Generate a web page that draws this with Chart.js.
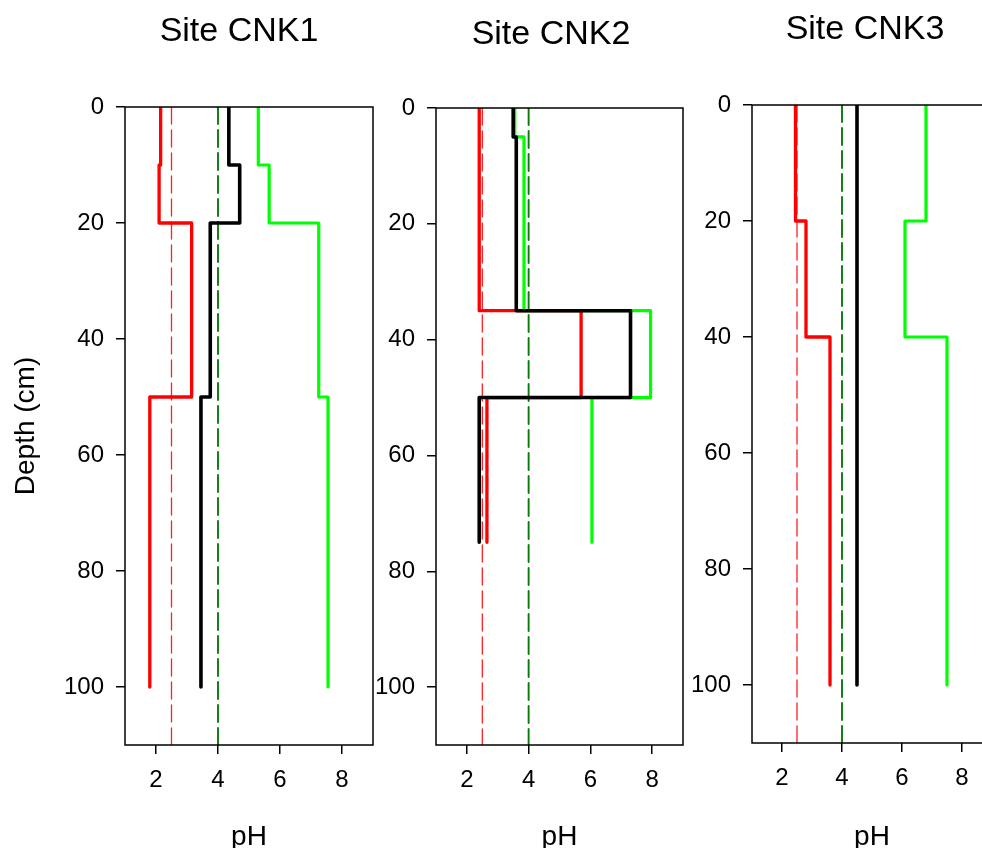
<!DOCTYPE html>
<html>
<head>
<meta charset="utf-8">
<title>Soil pH profiles</title>
<script src="https://cdn.jsdelivr.net/npm/chart.js@4/dist/chart.umd.min.js"></script>
<style>
  html, body { margin: 0; padding: 0; background: #fff; overflow: hidden; }
  #wrap { position: relative; width: 982px; height: 848px; overflow: hidden; }
  #wrap canvas { position: absolute; left: 0; top: 0; }
</style>
</head>
<body>
<div id="wrap">
  <canvas id="p1" width="1000" height="848"></canvas>
  <canvas id="p2" width="1000" height="848"></canvas>
  <canvas id="p3" width="1000" height="848"></canvas>
</div>
<script>
// Axis ticks
const phTicks = [2, 4, 6, 8];
const depthTicks = [0, 20, 40, 60, 80, 100];

// Layer boundaries (cm) and pH of each layer
const cnk1Depths = [0, 10, 20, 50, 100];
const cnk1Red = [2.15, 2.1, 3.15, 1.8];
const cnk1Black = [4.35, 4.7, 3.75, 3.45];
const cnk1Green = [5.3, 5.65, 7.25, 7.55];

const cnk2Depths = [0, 5, 35, 50, 75];
const cnk2Red = [2.4, 2.4, 5.7, 2.65];
const cnk2Black = [3.5, 3.6, 7.3, 2.4];
const cnk2Green = [3.55, 3.85, 7.95, 6.05];

const cnk3Depths = [0, 20, 40, 100];
const cnk3Red = [2.45, 2.8, 3.6];
const cnk3Black = [4.5, 4.5, 4.5];
const cnk3Green = [6.8, 6.1, 7.5];

// Reference pH lines
const redRef = 2.5;
const greenRef = 4.0;
const refDepths = [0, 110];

const siteNames = ['Site CNK1', 'Site CNK2', 'Site CNK3'];

const FONT = "'Liberation Sans', Arial, Helvetica, sans-serif";
Chart.defaults.font.family = FONT;
Chart.defaults.color = '#000';

// Turn layer boundaries + values into a stepped depth profile
function profile(bounds, values) {
  const pts = [];
  values.forEach((v, i) => {
    pts.push({ x: v, y: bounds[i] });
    pts.push({ x: v, y: bounds[i + 1] });
  });
  return pts;
}
function refLine(value) {
  return refDepths.map(d => ({ x: value, y: d }));
}

// Frame around the plot area
const framePlugin = {
  id: 'frame',
  afterDatasetsDraw(chart) {
    const { ctx, chartArea: a } = chart;
    ctx.save();
    ctx.strokeStyle = '#000';
    ctx.lineWidth = 1.5;
    ctx.strokeRect(a.left, a.top, a.right - a.left, a.bottom - a.top);
    ctx.restore();
  }
};

// Panel heading
const headingPlugin = {
  id: 'heading',
  afterDraw(chart, args, opts) {
    const ctx = chart.ctx;
    ctx.save();
    ctx.font = opts.size + 'px ' + FONT;
    ctx.fillStyle = '#000';
    ctx.textAlign = 'center';
    ctx.textBaseline = 'middle';
    ctx.fillText(opts.text, opts.x, opts.y);
    ctx.restore();
  }
};

function makePanel(canvasId, name, bounds, red, black, green, box) {
  const W = 1000, H = 848;
  const yAxisWidth = box.showYTitle ? box.left : 100;
  const datasets = [
    { data: profile(bounds, black), borderColor: '#000000', borderWidth: 3.6 },
    { data: profile(bounds, red), borderColor: '#ff0000', borderWidth: 3.3 },
    { data: profile(bounds, green), borderColor: '#00ff00', borderWidth: 3.2 },
    { data: refLine(redRef), borderColor: '#ff2020', borderWidth: 1.3, borderDash: [17, 6] },
    { data: refLine(greenRef), borderColor: '#0a7a0a', borderWidth: 1.9, borderDash: [17, 6] }
  ].map(d => Object.assign({
    showLine: true, pointRadius: 0, pointHoverRadius: 0, tension: 0,
    borderCapStyle: 'round', borderJoinStyle: 'round', fill: false
  }, d));

  return new Chart(document.getElementById(canvasId), {
    type: 'scatter',
    data: { datasets },
    options: {
      responsive: false,
      animation: false,
      events: [],
      layout: {
        padding: {
          left: box.left - yAxisWidth,
          right: W - box.right,
          top: box.top,
          bottom: 0
        }
      },
      plugins: {
        legend: { display: false },
        tooltip: { enabled: false },
        heading: { text: name, x: box.titleX, y: box.titleY, size: 34 }
      },
      scales: {
        x: {
          type: 'linear',
          position: 'bottom',
          min: 1, max: 9,
          afterBuildTicks: s => { s.ticks = phTicks.map(v => ({ value: v })); },
          afterFit: s => { s.height = H - box.bottom; },
          grid: { drawOnChartArea: false, tickLength: 9, color: '#000', lineWidth: 1.5 },
          border: { display: false },
          ticks: { padding: 12, font: { size: 24 }, color: '#000', maxRotation: 0 },
          title: { display: true, text: 'pH', font: { size: 28 }, color: '#000', padding: { top: 0, bottom: -6 } }
        },
        y: {
          type: 'linear',
          position: 'left',
          reverse: true,
          min: 0, max: 110,
          afterBuildTicks: s => { s.ticks = depthTicks.map(v => ({ value: v })); },
          afterFit: s => { s.width = yAxisWidth; },
          grid: { drawOnChartArea: false, tickLength: 9, color: '#000', lineWidth: 1.5 },
          border: { display: false },
          ticks: { padding: 12, font: { size: 24 }, color: '#000' },
          title: { display: !!box.showYTitle, text: 'Depth (cm)', font: { size: 28 }, color: '#000', padding: { top: 9, bottom: 0 } }
        }
      }
    },
    plugins: [framePlugin, headingPlugin]
  });
}

makePanel('p1', siteNames[0], cnk1Depths, cnk1Red, cnk1Black, cnk1Green,
  { left: 125, right: 373, top: 107, bottom: 745, titleX: 239, titleY: 32, showYTitle: true });
makePanel('p2', siteNames[1], cnk2Depths, cnk2Red, cnk2Black, cnk2Green,
  { left: 436, right: 683, top: 108, bottom: 745, titleX: 551, titleY: 35 });
makePanel('p3', siteNames[2], cnk3Depths, cnk3Red, cnk3Black, cnk3Green,
  { left: 752, right: 992, top: 105, bottom: 743, titleX: 865, titleY: 30 });
</script>
</body>
</html>
